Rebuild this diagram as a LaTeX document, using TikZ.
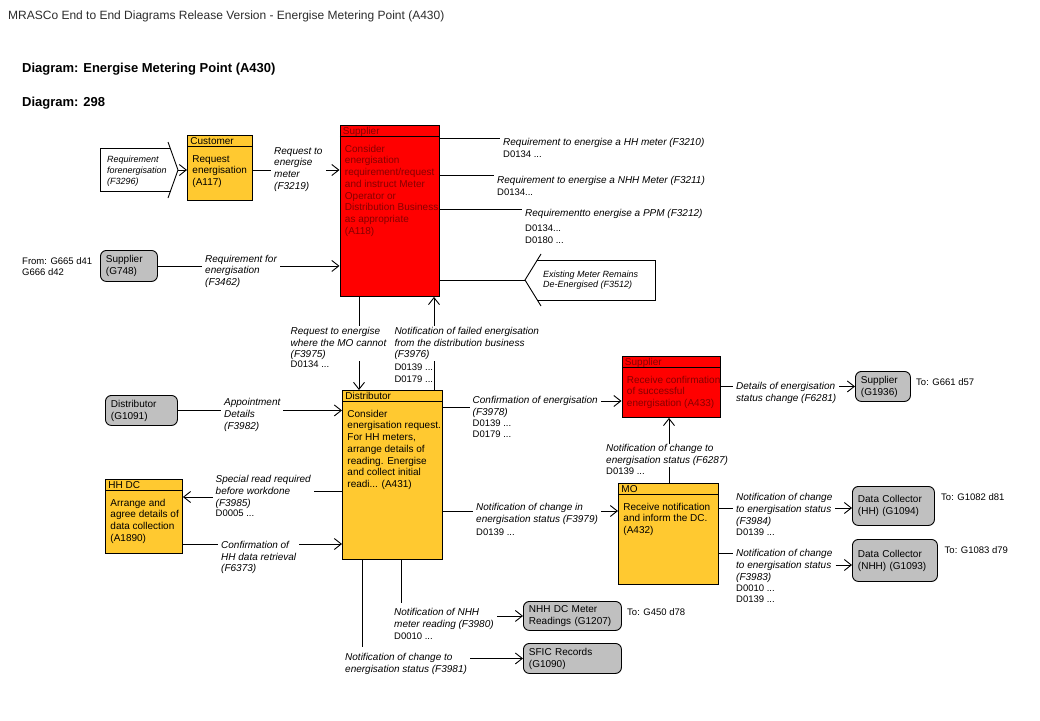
\documentclass[tikz,border=0pt]{standalone}
\usepackage{fontspec}
\setmainfont{Liberation Sans}
\usetikzlibrary{arrows.meta}
\definecolor{procY}{RGB}{255,201,48}
\definecolor{procR}{RGB}{255,0,0}
\definecolor{txtR}{RGB}{135,0,0}
\definecolor{extG}{RGB}{192,192,192}
\definecolor{ttlC}{RGB}{45,45,45}
\pgfdeclarelayer{back}
\pgfdeclarelayer{wires}
\pgfsetlayers{back,wires,main}

% process box body: width, height, header, body, text colour
\newcommand\pbody[5]{%
\begin{minipage}[t][#2][t]{#1}%
\vbox to 11pt{\vfil\hbox{\hspace*{3pt}\smash{\color{#5}#3}}\kern1.5pt}%
\hrule height 0.8pt
{\color{#5}\leftskip=5pt\baselineskip=11.7pt\rule{0pt}{15pt}#4\par}%
\end{minipage}}
\newcommand\flab[4]{\node[lbl] (#1) at ({#2-3},{#3-4.8}) {#4};}
\newcommand\ftxt[4]{\node[codes] (#1) at ({#2},{#3-3.3}) {#4};}

\tikzset{
  lbl/.style={anchor=north west, fill=white, inner xsep=3pt, inner ysep=1pt, align=left, font=\fontsize{10}{11.7}\selectfont\itshape},
  codes/.style={anchor=north west, inner sep=0pt, align=left, font=\fontsize{9.5}{11.3}\selectfont},
  intext/.style={anchor=north west, inner sep=0pt, align=left, font=\fontsize{9}{11.2}\selectfont\itshape},
  procbox/.style={draw, line width=0.9pt, inner sep=0pt, anchor=north west, font=\fontsize{10}{11.7}\selectfont},
  extbox/.style={draw, fill=extG, rounded corners=6pt, line width=0.9pt, anchor=north west, align=left, inner xsep=5.5pt, inner ysep=0pt, font=\fontsize{10}{12}\selectfont},
  wire/.style={line width=0.9pt},
  arr/.style={-{Straight Barb[length=7pt,width=11pt]}},
  outl/.style={line width=0.9pt}
}

\begin{document}
\begin{tikzpicture}[x=1pt,y=-1pt]
\useasboundingbox (0,0) rectangle (1040,720);
\begin{pgfonlayer}{back}
\fill[white] (0,0) rectangle (1040,720);
\end{pgfonlayer}

% titles
\node[anchor=base west, inner sep=0pt, text=ttlC, font=\fontsize{12}{14}\selectfont] (pagetitle) at (8,19.5) {MRASCo End to End Diagrams Release Version - Energise Metering Point (A430)};
\node[anchor=base west, inner sep=0pt, font=\bfseries\fontsize{13}{15}\selectfont] (dname) at (22,72) {Diagram: Energise Metering Point (A430)};
\node[anchor=base west, inner sep=0pt, font=\bfseries\fontsize{13}{15}\selectfont] (dnum) at (22,106) {Diagram: 298};

% process boxes
\node[procbox, fill=procY] (a117) at (187,135) {\pbody{65pt}{65pt}{Customer}{Request\\energisation\\(A117)}{black}};
\node[procbox, fill=procR] (a118) at (339.5,125) {\pbody{99pt}{171pt}{Supplier}{Consider\\energisation\\requirement/request\\and instruct Meter\\Operator or\\Distribution Business\\as appropriate\\(A118)}{txtR}};
\node[procbox, fill=procY] (a431) at (342,390) {\pbody{100pt}{169pt}{Distributor}{Consider\\energisation request.\\For HH meters,\\arrange details of\\reading. Energise\\and collect initial\\readi... (A431)}{black}};
\node[procbox, fill=procY] (a1890) at (105,479) {\pbody{77pt}{74pt}{HH DC}{Arrange and\\agree details of\\data collection\\(A1890)}{black}};
\node[procbox, fill=procR] (a433) at (621.5,356) {\pbody{98.5pt}{61pt}{Supplier}{Receive confirmation\\of successful\\energisation (A433)}{txtR}};
\node[procbox, fill=procY] (a432) at (618,483) {\pbody{100pt}{101pt}{MO}{Receive notification\\and inform the DC.\\(A432)}{black}};

% external boxes
\node[extbox, text width=46pt, minimum height=31pt] (g748) at (100,250) {Supplier\\(G748)};
\node[extbox, text width=61pt, minimum height=30pt] (g1091) at (105,395) {Distributor\\(G1091)};
\node[extbox, text width=44pt, minimum height=30pt] (g1936) at (855,371) {Supplier\\(G1936)};
\node[extbox, text width=71pt, minimum height=39pt] (g1094) at (852,486) {Data Collector\\(HH) (G1094)};
\node[extbox, text width=74pt, minimum height=42pt] (g1093) at (852,539) {Data Collector\\(NHH) (G1093)};
\node[extbox, text width=87pt, minimum height=29pt] (g1207) at (523,601) {NHH DC Meter\\Readings (G1207)};
\node[extbox, text width=87pt, minimum height=30pt] (g1090) at (523,643) {SFIC Records\\(G1090)};

% notes
\ftxt{from748}{22}{260.7}{From: G665 d41\\G666 d42}
\ftxt{to1936}{916}{381.7}{To: G661 d57}
\ftxt{to1094}{941}{496.7}{To: G1082 d81}
\ftxt{to1093}{944.5}{549.3}{To: G1083 d79}
\ftxt{to1207}{627}{611.7}{To: G450 d78}

% interface arrows (drawn shapes)
\coordinate (tip3296) at (178,170);
\draw[outl] (170.1,148) -- (100,148) -- (100,191) -- (170.5,191);
\draw[outl] (168,142) -- (tip3296) -- (168,198);
\node[intext] (f3296) at (107,155.8) {Requirement\\forenergisation\\(F3296)};
\coordinate (tip3512) at (525,280);
\draw[outl] (537.3,260) -- (655,260) -- (655,300) -- (537.3,300);
\draw[outl] (541,254) -- (tip3512) -- (541,306);
\node[intext, font=\fontsize{9}{10.5}\selectfont\itshape] (f3512) at (543,270.5) {Existing Meter Remains\\De-Energised (F3512)};

% flow labels
\flab{f3219}{274}{151}{Request to\\energise\\meter\\(F3219)}
\flab{f3462}{205}{258.5}{Requirement for\\energisation\\(F3462)}
\flab{f3210}{503}{142}{Requirement to energise a HH meter (F3210)}
\flab{f3211}{497}{179.5}{Requirement to energise a NHH Meter (F3211)}
\flab{f3212}{525}{212.7}{Requirementto energise a PPM (F3212)}
\flab{f3975}{290.5}{330.7}{Request to energise\\where the MO cannot\\(F3975)}
\flab{f3976}{394.3}{330.7}{Notification of failed energisation\\from the distribution business\\(F3976)}
\flab{f3982}{224}{402}{Appointment\\Details\\(F3982)}
\flab{f3985}{215.5}{479}{Special read required\\before workdone\\(F3985)}
\flab{f6373}{221}{544.7}{Confirmation of\\HH data retrieval\\(F6373)}
\flab{f3978}{472.5}{400}{Confirmation of energisation\\(F3978)}
\flab{f6281}{736}{385.7}{Details of energisation\\status change (F6281)}
\flab{f6287}{606}{448.3}{Notification of change to\\energisation status (F6287)}
\flab{f3979}{476}{506.7}{Notification of change in\\energisation status (F3979)}
\flab{f3984}{736}{497.3}{Notification of change\\to energisation status\\(F3984)}
\flab{f3983}{736}{553.3}{Notification of change\\to energisation status\\(F3983)}
\flab{f3980}{394}{611.7}{Notification of NHH\\meter reading (F3980)}
\flab{f3981}{345}{656.7}{Notification of change to\\energisation status (F3981)}

% data item codes
\ftxt{f3210d}{503}{154}{D0134 ...}
\ftxt{f3211d}{497}{192.3}{D0134...}
\ftxt{f3212d}{525}{228.3}{D0134...\\D0180 ...}
\ftxt{f3975d}{290.5}{364}{D0134 ...}
\ftxt{f3976d}{394.3}{367.3}{D0139 ...\\D0179 ...}
\ftxt{f3985d}{215.5}{513}{D0005 ...}
\ftxt{f3978d}{472.5}{422.7}{D0139 ...\\D0179 ...}
\ftxt{f6287d}{606}{471}{D0139 ...}
\ftxt{f3979d}{476}{531.7}{D0139 ...}
\ftxt{f3984d}{736}{531.7}{D0139 ...}
\ftxt{f3983d}{736}{587.7}{D0010 ...\\D0139 ...}
\ftxt{f3980d}{394}{636}{D0010 ...}

% connectors
\begin{pgfonlayer}{wires}
\draw[wire,arr] (tip3296) -- (tip3296 -| a117.west);
\draw[wire,arr] (a117.east |- 0,170) -- (a118.west |- 0,170);
\draw[wire,arr] (g748.east) -- (g748.east -| a118.west);
\draw[wire] (a118.east |- 0,138) -- (f3210.west |- 0,138);
\draw[wire] (a118.east |- 0,175) -- (f3211.west |- 0,175);
\draw[wire] (a118.east |- 0,209) -- (f3212.west |- 0,209);
\draw[wire] (a118.east |- tip3512) -- (tip3512);
\draw[wire,arr] (a118.south -| 359,0) -- (a431.north -| 359,0);
\draw[wire,arr] (a431.north -| 434,0) -- (a118.south -| 434,0);
\draw[wire,arr] (g1091.east) -- (g1091.east -| a431.west);
\draw[wire] (a431.west |- 0,491) -- (f3985.east |- 0,491);
\draw[wire,arr] (f3985.west |- 0,497) -- (a1890.east |- 0,497);
\draw[wire,arr] (a1890.east |- 0,544) -- (a431.west |- 0,544);
\draw[wire] (a431.east |- 0,407) -- (f3978.west |- 0,407);
\draw[wire,arr] (f3978.east |- 0,401) -- (a433.west |- 0,401);
\draw[wire,arr] (a433.east |- g1936.west) -- (g1936.west);
\draw[wire,arr] (a432.north -| 669,0) -- (a433.south -| 669,0);
\draw[wire,arr] (a431.east |- 0,511) -- (a432.west |- 0,511);
\draw[wire,arr] (a432.east |- 0,508) -- (g1094.west |- 0,508);
\draw[wire] (a432.east |- 0,553) -- (f3983.west |- 0,553);
\draw[wire,arr] (f3983.east |- 0,565) -- (g1093.west |- 0,565);
\draw[wire,shorten >=4pt] (a431.south -| 401,0) -- (f3980.north -| 401,0);
\draw[wire,arr] (f3980.east |- g1207.west) -- (g1207.west);
\draw[wire,shorten >=5pt] (a431.south -| 362,0) -- (f3981.north -| 362,0);
\draw[wire,arr] (f3981.east |- g1090.west) -- (g1090.west);
\end{pgfonlayer}
\end{tikzpicture}
\end{document}
